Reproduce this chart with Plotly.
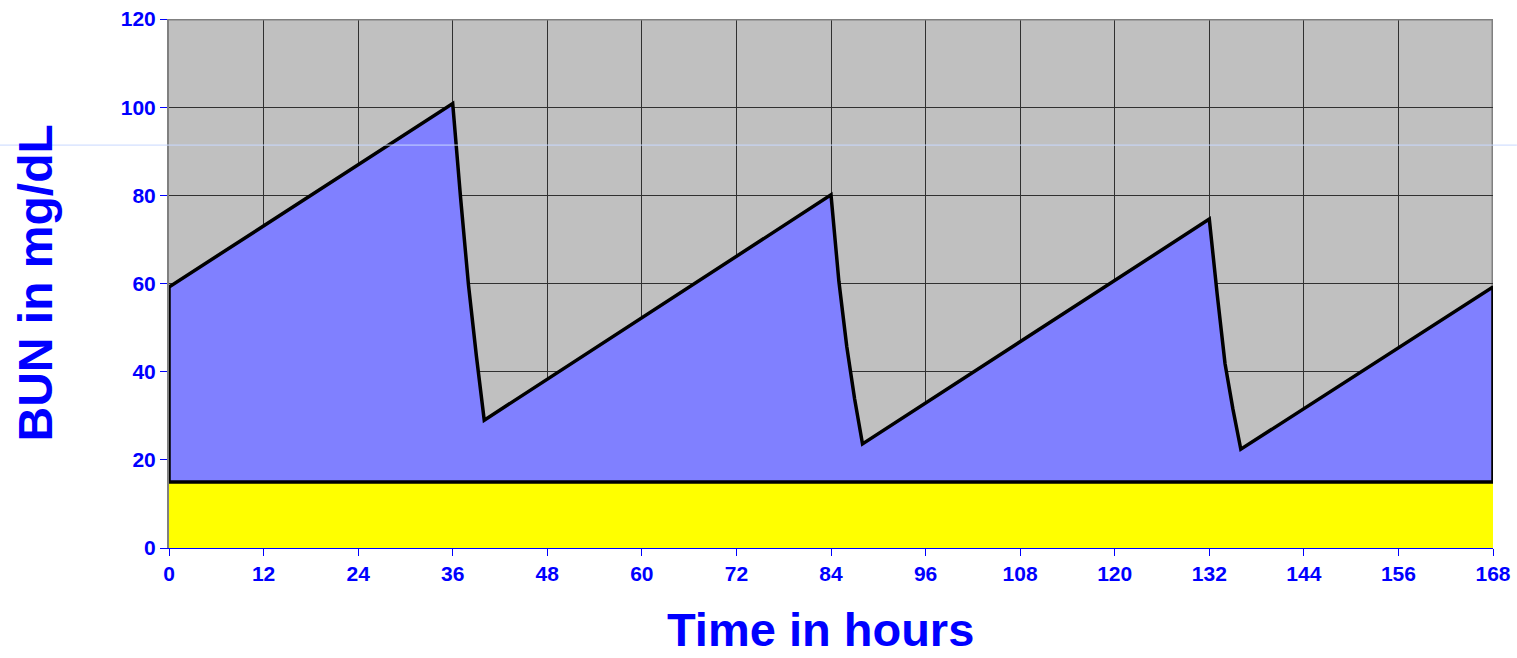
import plotly.graph_objects as go

# Data
hours = [0, 36, 37, 38, 39, 40, 84, 85, 86, 87, 88, 132, 133, 134, 135, 136, 168]
bun = [59.2, 100.8, 79.4, 59.7, 43.6, 29.0, 80.1, 60.5, 45.7, 33.8, 23.6,
       74.6, 57.6, 41.8, 31.5, 22.4, 59.2]
baseline_level = 15          # yellow band (baseline BUN)
x_ticks = list(range(0, 169, 12))
y_ticks = list(range(0, 121, 20))

BLUE = "#0000FF"
FONT = "Liberation Sans, Arial, sans-serif"

fig = go.Figure()

# Yellow baseline band
fig.add_trace(go.Scatter(
    x=[hours[0], hours[-1]], y=[baseline_level, baseline_level],
    mode="lines", line=dict(width=0), fill="tozeroy",
    fillcolor="#FFFF00", hoverinfo="skip", showlegend=False))

# Blue area between baseline and BUN curve
fig.add_trace(go.Scatter(
    x=hours, y=bun, mode="lines", line=dict(width=0),
    fill="tonexty", fillcolor="#8080FF", hoverinfo="skip", showlegend=False))

# Black outline of the blue area
fig.add_trace(go.Scatter(
    x=hours + [hours[-1], hours[0], hours[0]],
    y=bun + [baseline_level, baseline_level, bun[0]],
    mode="lines", line=dict(color="black", width=3.5),
    name="BUN", showlegend=False))

fig.update_layout(
    width=1517, height=658, autosize=False,
    margin=dict(l=169, r=24, t=19, b=110, autoexpand=False),
    paper_bgcolor="white", plot_bgcolor="#C0C0C0",
    font=dict(family=FONT, color=BLUE),
    xaxis=dict(
        range=[0, 168], tickvals=x_ticks, ticktext=[str(v) for v in x_ticks],
        showgrid=True, gridcolor="#303030", gridwidth=1,
        showline=True, linecolor=BLUE, linewidth=1,
        ticks="outside", ticklen=7, tickcolor=BLUE, tickwidth=1,
        tickfont=dict(family=FONT, size=21, color=BLUE, weight="bold"),
        zeroline=False, automargin=False),
    yaxis=dict(
        range=[0, 120], tickvals=y_ticks, ticktext=[str(v) for v in y_ticks],
        showgrid=True, gridcolor="#303030", gridwidth=1,
        showline=True, linecolor="#808080", linewidth=2,
        ticks="outside", ticklen=7, tickcolor=BLUE, tickwidth=1,
        tickfont=dict(family=FONT, size=21, color=BLUE, weight="bold"),
        zeroline=False, automargin=False),
    annotations=[
        dict(text="Time in hours", xref="paper", yref="paper",
             x=0.4924, y=-0.2055, xanchor="center", yanchor="bottom",
             showarrow=False, borderpad=0,
             font=dict(family=FONT, size=47, color=BLUE, weight="bold")),
        dict(text="BUN in mg/dL", xref="paper", yref="paper",
             x=-0.1012, y=0.5, xanchor="center", yanchor="middle",
             textangle=-90, showarrow=False,
             font=dict(family=FONT, size=48, color=BLUE, weight="bold")),
    ],
    shapes=[
        # plot border (top and right) in gray
        dict(type="line", xref="x", yref="y", x0=0, x1=168, y0=120, y1=120,
             line=dict(color="#808080", width=3), layer="above"),
        dict(type="line", xref="x", yref="y", x0=168, x1=168, y0=0, y1=120,
             line=dict(color="#808080", width=3), layer="below"),
        # faint light-blue artifact line across the slide
        dict(type="line", xref="paper", yref="y", x0=-0.128, x1=1.018,
             y0=91.4, y1=91.4, line=dict(color="#C8D8FF", width=1),
             layer="above"),
    ],
)

fig.write_html("out.html",
               config={"displayModeBar": False},
               post_script="document.body.style.margin='0';"
                           "document.body.style.overflow='hidden';")
